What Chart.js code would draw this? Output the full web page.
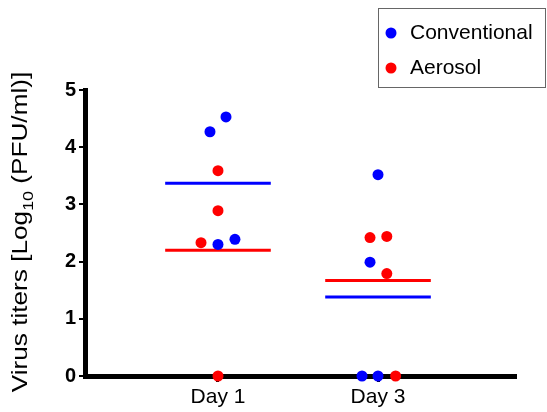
<!DOCTYPE html>
<html>
<head>
<meta charset="utf-8">
<script src="https://cdn.jsdelivr.net/npm/chart.js@4/dist/chart.umd.min.js"></script>
<style>
  html, body { margin: 0; padding: 0; background: #fff; }
  #wrap { width: 547px; height: 412px; position: relative; }
</style>
</head>
<body>
<div id="wrap"><canvas id="chart" width="547" height="412"></canvas></div>
<script>
// Groups on the x axis (Day 1 -> 1, Day 3 -> 2)
const dayLabels = ['Day 1', 'Day 3'];
const yTicks = [0, 1, 2, 3, 4, 5];

// Conventional (blue) values
const convDay = [1, 1, 1, 1, 2, 2, 2, 2];
const convJitter = [0.05, -0.05, 0.0, 0.106, 0.0, -0.05, -0.1, 0.0];
const convValues = [4.53, 4.27, 2.30, 2.39, 3.52, 1.99, 0, 0];
const convMean = [3.37, 1.38];

// Aerosol (red) values
const aeroDay = [1, 1, 1, 1, 2, 2, 2, 2];
const aeroJitter = [0.0, 0.0, -0.106, 0.0, -0.05, 0.055, 0.055, 0.11];
const aeroValues = [3.59, 2.89, 2.33, 0, 2.42, 2.44, 1.79, 0];
const aeroMean = [2.20, 1.67];

const meanHalfWidth = 0.33;
const BLUE = '#0000ff';
const RED = '#ff0000';

function points(days, jitter, values) {
  return values.map((v, i) => ({ x: days[i] + jitter[i], y: v }));
}

function meanLines(means, color, label) {
  return means.map((m, i) => ({
    type: 'line',
    label: label,
    data: [{ x: i + 1 - meanHalfWidth, y: m }, { x: i + 1 + meanHalfWidth, y: m }],
    borderColor: color,
    borderWidth: 3,
    pointRadius: 0,
    showLine: true,
    fill: false,
    clip: false
  }));
}

// y axis title with subscript, drawn on the canvas
const yTitlePlugin = {
  id: 'yTitle',
  afterDraw(chart) {
    const ctx = chart.ctx;
    const main = '22px "Liberation Sans", Arial, sans-serif';
    const sub = '15px "Liberation Sans", Arial, sans-serif';
    const parts = [
      { t: 'Virus titers [Log', f: main, dy: 0 },
      { t: '10', f: sub, dy: 6 },
      { t: ' (PFU/ml)]', f: main, dy: 0 }
    ];
    ctx.save();
    let total = 0;
    parts.forEach(p => { ctx.font = p.f; p.w = ctx.measureText(p.t).width; total += p.w; });
    ctx.translate(27, 232);
    ctx.rotate(-Math.PI / 2);
    ctx.scale(1.19, 1);
    ctx.fillStyle = '#000';
    ctx.textBaseline = 'alphabetic';
    let x = -total / 2;
    parts.forEach(p => {
      ctx.font = p.f;
      ctx.fillText(p.t, x, p.dy);
      x += p.w;
    });
    ctx.restore();
  }
};

// boxed legend at the top right
const legendPlugin = {
  id: 'boxLegend',
  afterDraw(chart) {
    const ctx = chart.ctx;
    ctx.save();
    ctx.strokeStyle = '#666';
    ctx.lineWidth = 1;
    ctx.strokeRect(378.5, 8.5, 167, 79);
    const items = [
      { label: 'Conventional', color: BLUE, y: 33 },
      { label: 'Aerosol', color: RED, y: 68 }
    ];
    ctx.font = '21px "Liberation Sans", Arial, sans-serif';
    ctx.textBaseline = 'middle';
    items.forEach(it => {
      ctx.fillStyle = it.color;
      ctx.beginPath();
      ctx.arc(391, it.y, 5.5, 0, Math.PI * 2);
      ctx.fill();
      ctx.fillStyle = '#000';
      ctx.fillText(it.label, 410, it.y);
    });
    ctx.restore();
  }
};

new Chart(document.getElementById('chart'), {
  type: 'scatter',
  data: {
    datasets: [
      {
        label: 'Conventional',
        data: points(convDay, convJitter, convValues),
        backgroundColor: BLUE,
        borderColor: BLUE,
        pointRadius: 5.5,
        pointBorderWidth: 0,
        clip: false
      },
      {
        label: 'Aerosol',
        data: points(aeroDay, aeroJitter, aeroValues),
        backgroundColor: RED,
        borderColor: RED,
        pointRadius: 5.5,
        pointBorderWidth: 0,
        clip: false
      },
      ...meanLines(convMean, BLUE, 'Conventional mean'),
      ...meanLines(aeroMean, RED, 'Aerosol mean')
    ]
  },
  options: {
    responsive: false,
    animation: false,
    layout: { padding: { top: 90, right: 32, left: 0, bottom: 0 } },
    plugins: {
      legend: { display: false },
      tooltip: { enabled: false },
      title: { display: false }
    },
    scales: {
      x: {
        type: 'linear',
        min: 0.169,
        max: 2.856,
        afterFit: s => { s.height = 36; },
        afterBuildTicks: s => { s.ticks = [{ value: 1 }, { value: 2 }]; },
        grid: { drawOnChartArea: false, drawTicks: true, tickLength: 6, color: '#000', lineWidth: 3 },
        border: { display: true, color: '#000', width: 5 },
        ticks: {
          color: '#000',
          padding: 3,
          font: { family: '"Liberation Sans", Arial, sans-serif', size: 21 },
          callback: v => dayLabels[v - 1] || ''
        }
      },
      y: {
        min: 0,
        max: 5,
        afterFit: s => { s.width = 85; },
        afterBuildTicks: s => { s.ticks = yTicks.map(v => ({ value: v })); },
        grid: { drawOnChartArea: false, drawTicks: true, tickLength: 6, color: '#000', lineWidth: 2 },
        border: { display: true, color: '#000', width: 5 },
        ticks: {
          color: '#000',
          padding: 3,
          font: { family: '"Liberation Sans", Arial, sans-serif', size: 20, weight: 'bold' }
        }
      }
    }
  },
  plugins: [yTitlePlugin, legendPlugin]
});
</script>
</body>
</html>
